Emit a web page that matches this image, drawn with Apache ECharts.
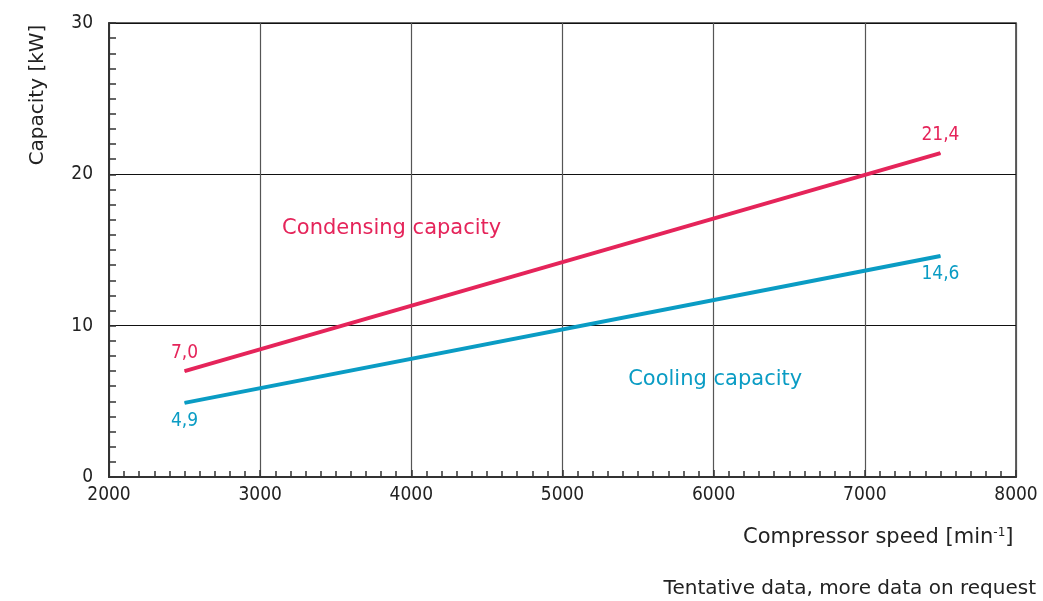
<!DOCTYPE html>
<html><head><meta charset="utf-8">
<script src="https://cdn.jsdelivr.net/npm/echarts@6/dist/echarts.min.js"></script>
<style>html,body{margin:0;padding:0;background:#fff}#c{width:1043px;height:601px}</style>
</head><body><div id="c"></div>
<script>
const speeds = [2500, 7500];
const condensing = [7.0, 21.4];
const cooling = [4.9, 14.6];
const xTicks = [2000, 3000, 4000, 5000, 6000, 7000, 8000];
const yTicks = [0, 10, 20, 30];
const seriesNames = ['Condensing capacity', 'Cooling capacity'];
const seriesNameAt = [[3870, 16.4], [6010, 6.45]];
const colors = ['#e5245a', '#0a9cc4'];
const NUMFONT = 'DejaVu Sans Condensed, DejaVu Sans, sans-serif';
const FONT = 'DejaVu Sans, sans-serif';

const fmt = v => v.toFixed(1).replace('.', ',');

function mkSeries(i, vals, pos) {
  return {
    type: 'line', name: seriesNames[i],
    data: speeds.map((s, k) => [s, vals[k]]),
    symbol: 'circle', symbolSize: 1, showSymbol: true,
    itemStyle: { color: colors[i] },
    lineStyle: { color: colors[i], width: 4 },
    label: { show: true, position: pos, color: colors[i], fontFamily: NUMFONT, fontSize: 19,
      distance: 8, formatter: p => fmt(p.value[1]) },
    markPoint: {
      symbol: 'circle', symbolSize: 0,
      label: { show: true, position: 'inside', color: colors[i], fontFamily: FONT, fontSize: 21, formatter: seriesNames[i] },
      data: [{ coord: seriesNameAt[i] }]
    },
    silent: true, animation: false
  };
}

const chart = echarts.init(document.getElementById('c'), null, { renderer: 'canvas' });
chart.setOption({
  animation: false,
  grid: { left: 109, right: 27, top: 23, bottom: 124, show: true, borderColor: '#333', borderWidth: 1.5 },
  xAxis: {
    type: 'value', min: xTicks[0], max: xTicks[xTicks.length - 1], interval: 1000,
    axisLine: { show: true, lineStyle: { color: '#333', width: 2 } },
    axisTick: { show: true, inside: true, length: 7, lineStyle: { color: '#333', width: 1.5 } },
    minorTick: { show: true, splitNumber: 10, length: 6, lineStyle: { color: '#333', width: 1.5 } },
    axisLabel: { color: '#222', fontFamily: NUMFONT, fontSize: 19, margin: 9, formatter: v => String(v) },
    splitLine: { show: true, lineStyle: { color: '#555', width: 1.2 } }
  },
  yAxis: {
    type: 'value', min: yTicks[0], max: yTicks[yTicks.length - 1], interval: 10,
    axisLine: { show: true, lineStyle: { color: '#333', width: 2 } },
    axisTick: { show: true, inside: true, length: 7, lineStyle: { color: '#333', width: 1.5 } },
    minorTick: { show: true, splitNumber: 10, length: 7, lineStyle: { color: '#333', width: 1.5 } },
    axisLabel: { color: '#222', fontFamily: NUMFONT, fontSize: 19, margin: 16, formatter: v => String(v) },
    splitLine: { show: true, lineStyle: { color: '#111', width: 1 } }
  },
  series: [mkSeries(0, condensing, 'top'), mkSeries(1, cooling, 'bottom')],
  graphic: [
    { type: 'text', left: 743, top: 527, style: {
      text: '{a|Compressor speed [min}{s|-1}{a|]}', fontFamily: FONT,
      rich: { a: { fontSize: 21, fontFamily: FONT, fill: '#222' }, s: { fontSize: 12, fontFamily: FONT, fill: '#222', verticalAlign: 'top', padding:[0,0,8,0] } } } },
    { type: 'text', right: 7, top: 579, style: { text: 'Tentative data, more data on request', fontFamily: FONT, fontSize: 20, fill: '#222' } },
    { type: 'text', x: 38, y: 95, rotation: Math.PI / 2, style: { text: 'Capacity [kW]', fontFamily: FONT, fontSize: 20, fill: '#222', align: 'center', verticalAlign: 'middle' } }
  ]
});
</script></body></html>
